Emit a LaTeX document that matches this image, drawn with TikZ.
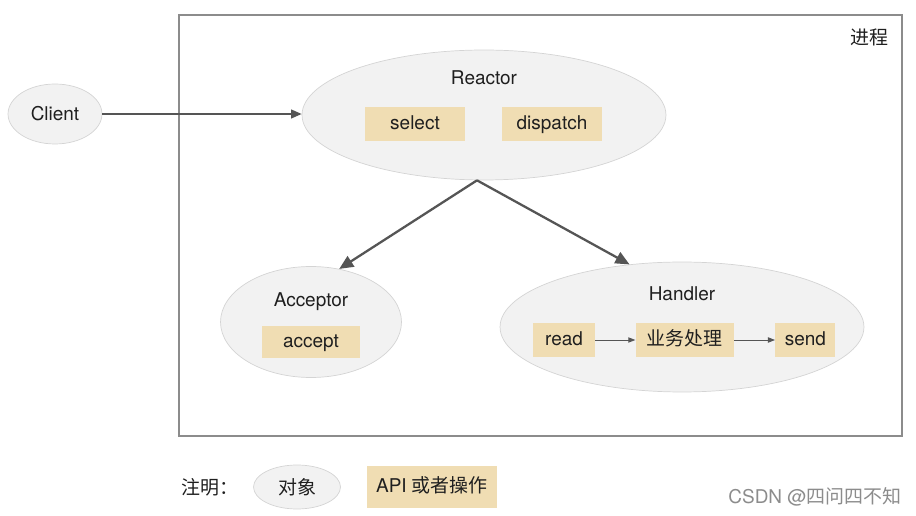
\documentclass[tikz,border=0pt]{standalone}
\usepackage{fontspec}
\setmainfont{TeX Gyre Heros}
\newfontfamily\cjk{Noto Sans CJK SC}
\usetikzlibrary{arrows.meta,positioning,shapes.geometric}

\definecolor{objfill}{HTML}{F2F2F2}
\definecolor{objline}{HTML}{D4D4D4}
\definecolor{apifill}{HTML}{F0DDB3}
\definecolor{arrowgray}{HTML}{555555}
\definecolor{framegray}{HTML}{8C8C8C}

\begin{document}
\begin{tikzpicture}[
    x=0.02cm, y=-0.02cm,
    % Define styles
    obj/.style={ellipse, draw=objline, fill=objfill, inner sep=0pt},
    api/.style={rectangle, fill=apifill, inner sep=0pt, minimum height=0.7cm, text height=0.82em, text depth=0.18em},
    txt/.style={font=\fontsize{10.8}{13}\selectfont, text=black!88},
    arrow/.style={-{Triangle[length=6pt,width=5pt]}, arrowgray, line width=0.9pt},
    bigarrow/.style={-{Triangle[length=8pt,width=7pt]}, arrowgray, line width=1.3pt},
    smallarrow/.style={-{Triangle[length=4pt,width=3pt]}, arrowgray, line width=0.5pt}
]
\useasboundingbox (0,0) rectangle (916,516);

% Process frame
\node[draw=framegray, line width=0.7pt, minimum width=14.46cm, minimum height=8.42cm] (proc) at (540.5,225.5) {};
\node[txt] (proclbl) at (869,37) {\cjk 进程};

% Client
\node[obj, txt, minimum width=1.88cm, minimum height=1.2cm] (client) at (55,114) {Client};

% Reactor
\node[obj, minimum width=7.28cm, minimum height=2.6cm] (reactor) at (484,115) {};
\node[txt] (reactorlbl) at (484,78) {Reactor};
\node[api, txt, minimum width=2cm, minimum height=0.68cm] (select) at (415,124) {select};
\node[api, txt, minimum width=2cm, minimum height=0.68cm] (dispatch) at (552,124) {dispatch};

% Acceptor
\node[obj, minimum width=3.62cm, minimum height=2.22cm] (acceptor) at (311,322) {};
\node[txt] (acceptorlbl) at (311,302) {Acceptor};
\node[api, txt, minimum width=1.96cm, minimum height=0.66cm] (accept) at (311,342) {accept};

% Handler
\node[obj, minimum width=7.28cm, minimum height=2.6cm] (handler) at (682,327) {};
\node[txt] (handlerlbl) at (682,294) {Handler};
\node[api, txt, minimum width=1.24cm] (read) at (564,340) {read};
\node[api, txt, minimum width=1.96cm, right=0.8cm of read] (biz) {\cjk 业务处理};
\node[api, txt, minimum width=1.2cm, right=0.82cm of biz] (send) {send};

% Connections
\draw[arrow] (client) -- (reactor.west |- client.east);
\draw[bigarrow] ([xshift=-0.14cm]reactor.south) -- (acceptor.62);
\draw[bigarrow] ([xshift=-0.14cm]reactor.south) -- (handler.130);
\draw[smallarrow] (read) -- (biz);
\draw[smallarrow] (biz) -- (send);

% Legend
\node[txt] (note) at (210,487) {\cjk 注明：};
\node[obj, txt, minimum width=1.74cm, minimum height=0.88cm] (legobj) at (297,487) {\cjk 对象};
\node[api, txt, minimum width=2.6cm, minimum height=0.84cm] (legapi) at (432,487) {API {\cjk 或者操作}};

% Watermark
\node[txt, text=black!45] (mark) at (815,497) {CSDN @{\cjk 四问四不知}};
\end{tikzpicture}
\end{document}
